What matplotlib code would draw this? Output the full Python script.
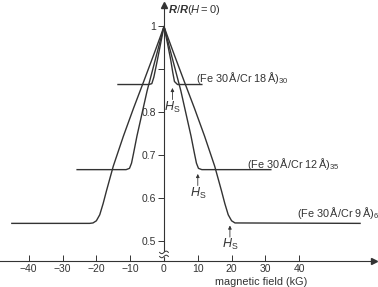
import matplotlib
matplotlib.use("Agg")
import matplotlib.pyplot as plt
import numpy as np

# (H in kG, R/R(H=0))
h_cr18 = [-13.6, -4.5, -3.6, -3.0, -2.0, -1.0, 0.0, 1.0, 2.0, 2.6, 3.1, 4.0, 11.2]
r_cr18 = [0.865, 0.865, 0.867, 0.882, 0.92, 0.96, 1.0, 0.962, 0.922, 0.893, 0.872, 0.865, 0.865]

h_cr12 = [-25.7, -11.2, -10.2, -9.6, -9.0, -8.0, -7.0, -5.0, -3.0, -1.0, 0.0,
          1.0, 3.0, 5.0, 7.0, 8.0, 9.0, 9.6, 10.2, 11.2, 31.6]
r_cr12 = [0.667, 0.667, 0.670, 0.682, 0.705, 0.745, 0.78, 0.85, 0.91, 0.97, 1.0,
          0.97, 0.91, 0.85, 0.78, 0.745, 0.705, 0.682, 0.670, 0.667, 0.667]

h_cr9 = [-45, -22, -21, -20, -19, -18, -17, -15, -12, -9, -6, -3, -1, 0,
         1, 3, 6, 9, 12, 15, 17, 18, 19, 20, 21, 58]
r_cr9 = [0.542, 0.542, 0.543, 0.548, 0.562, 0.588, 0.618, 0.675, 0.745, 0.81, 0.872, 0.935, 0.978, 1.0,
         0.978, 0.935, 0.872, 0.81, 0.745, 0.675, 0.618, 0.588, 0.562, 0.548, 0.543, 0.542]

labels = [r"(Fe 30$\,$Å/Cr 18$\,$Å)$_{30}$", r"(Fe 30$\,$Å/Cr 12$\,$Å)$_{35}$", r"(Fe 30$\,$Å/Cr 9$\,$Å)$_{6}$"]
label_pos = [(9.5, 0.881), (24.5, 0.679), (39.3, 0.567)]
hs_pos = [(2.5, 0.857), (10.0, 0.657), (19.5, 0.537)]

xticks = [-40, -30, -20, -10, 0, 10, 20, 30, 40]
yticks = [0.5, 0.6, 0.7, 0.8, 0.9, 1.0]
yticklabels = ["0.5", "0.6", "0.7", "0.8", "", "1"]

INK = "#333333"
plt.rcParams.update({"font.family": "Liberation Sans", "text.color": INK,
                     "mathtext.fontset": "custom",
                     "mathtext.rm": "Liberation Sans",
                     "mathtext.it": "Liberation Sans:italic",
                     "mathtext.bf": "Liberation Sans:bold"})
try:
    plt.rcParams["mathtext.bfit"] = "Liberation Sans:bold:italic"
except KeyError:
    pass

X0, X1 = -48.5, 63.3
Y0, Y1 = 0.394, 1.0616
YAX = 0.4547

fig = plt.figure(figsize=(3.78, 2.87), dpi=100)
ax = fig.add_axes([0, 0, 1, 1])
ax.set_xlim(X0, X1); ax.set_ylim(Y0, Y1)
ax.patch.set_alpha(0)

for h, r in [(h_cr18, r_cr18), (h_cr12, r_cr12), (h_cr9, r_cr9)]:
    ax.plot(h, r, color=INK, lw=1.0, solid_joinstyle="round")

for s in ["top", "right"]:
    ax.spines[s].set_visible(False)
ax.spines["bottom"].set_position(("data", YAX))
ax.spines["bottom"].set_bounds(X0, 62.0)
ax.spines["left"].set_position(("data", 0))
ax.spines["left"].set_bounds(YAX, 1.05)
for s in ["bottom", "left"]:
    ax.spines[s].set_color(INK); ax.spines[s].set_linewidth(0.8)

ax.set_xticks(xticks)
ax.set_xticklabels([str(t).replace("-", "\u2212") for t in xticks], fontsize=7.5, color=INK)
ax.tick_params(axis="x", direction="in", length=4, width=0.7, pad=2, color=INK)
ax.set_yticks(yticks)
ax.set_yticklabels(yticklabels, fontsize=7.5, color=INK)
ax.tick_params(axis="y", direction="out", length=4, width=0.7, pad=1.5, color=INK)

# axis arrows
ax.plot(62.0, YAX, marker=">", ms=5, color=INK, clip_on=False)
ax.plot(0, 1.05, marker="^", ms=4, color=INK, clip_on=False)

# axis break
ax.fill_between([-1.3, 1.3], 0.465, 0.4745, color="white", zorder=3)
t = np.linspace(-1.3, 1.3, 20)
for yb in (0.4745, 0.465):
    ax.plot(t, yb + 0.003 * np.sin(t / 1.3 * np.pi), color=INK, lw=0.7, zorder=4)

for txt, (x, y) in zip(labels, label_pos):
    ax.text(x, y, txt, fontsize=7.8, va="center", ha="left")

for x, y in hs_pos:
    ax.annotate("", xy=(x, y), xytext=(x, y - 0.027),
                arrowprops=dict(arrowstyle="-|>", lw=0.6, color=INK, mutation_scale=5,
                                shrinkA=0, shrinkB=0))
    ax.text(x, y - 0.045, r"$H_\mathrm{S}$", fontsize=9, ha="center", va="center")

ax.text(1.2, 1.038, r"$\mathbfit{R}/\mathbfit{R}(H=0)$", fontsize=8, ha="left", va="center")
ax.text(28.8, 0.4065, "magnetic field (kG)", fontsize=7.8, ha="center", va="center")

fig.savefig("out.png", dpi=100)
